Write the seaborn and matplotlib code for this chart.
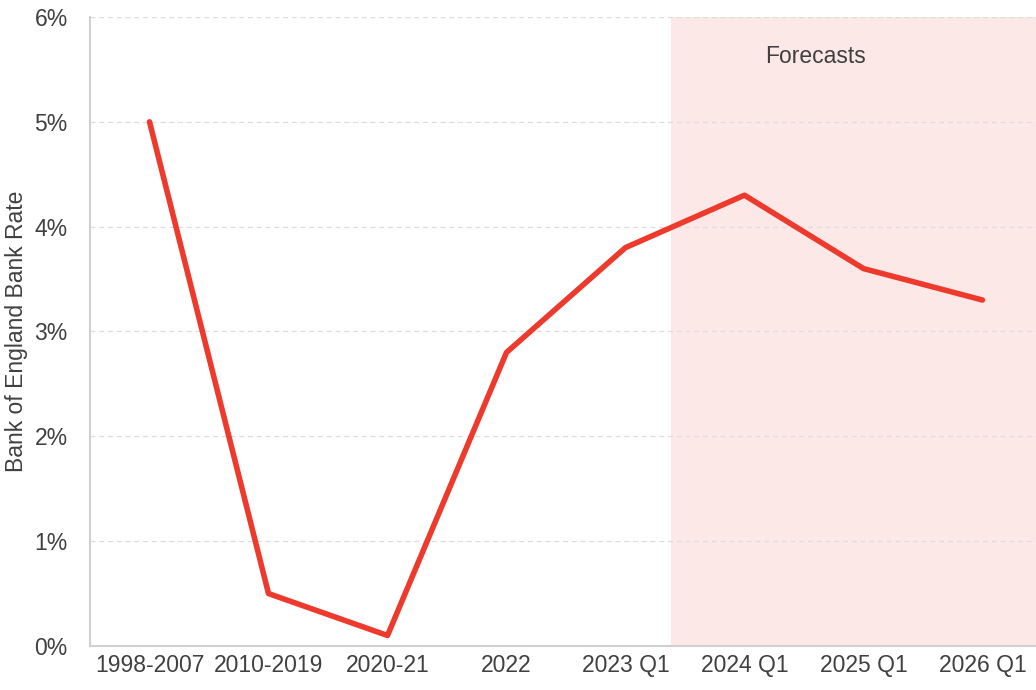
import matplotlib
matplotlib.use("Agg")
from matplotlib import pyplot as plt
from matplotlib.ticker import PercentFormatter
import seaborn as sns
import pandas as pd

sns.set_style("white")
plt.rcParams['font.family'] = ['Liberation Sans', 'DejaVu Sans']

periods = ["1998-2007", "2010-2019", "2020-21", "2022", "2023 Q1", "2024 Q1", "2025 Q1", "2026 Q1"]
bank_rate = [5.0, 0.5, 0.1, 2.8, 3.8, 4.3, 3.6, 3.3]
forecast_start = 4.38  # where the shaded forecast band begins

df = pd.DataFrame({"period": periods, "rate": bank_rate, "pos": range(len(periods))})

text_col = "#404040"
fig = plt.figure(figsize=(10.36, 6.9), dpi=100)
ax = fig.add_axes([0.0869, 0.0638, 0.9131, 0.9116])

ax.axvspan(forecast_start, 7.6, ymin=0, ymax=1, color="#fde8e8", lw=0, zorder=0)
sns.lineplot(data=df, x="pos", y="rate", color="#ee3a2d", lw=4, ax=ax, zorder=3)

ax.set_xlim(-0.5, 7.45)
ax.set_ylim(0, 6)
ax.set_xticks(df["pos"])
ax.set_xticklabels(periods)
ax.set_yticks(range(0, 7))
ax.yaxis.set_major_formatter(PercentFormatter(decimals=0))
ax.tick_params(axis="both", labelsize=16.5, colors=text_col, length=0)
ax.tick_params(axis="y", pad=16)
ax.tick_params(axis="x", pad=6)
ax.set_xlabel("")
ax.set_ylabel("Bank of England Bank Rate", fontsize=16.5, color=text_col)
ax.yaxis.set_label_coords(-0.066, 0.5)

for y in range(1, 7):
    ax.axhline(y, color="#dddddd", lw=0.9, ls=(0, (4, 3)), zorder=1)

for side in ["top", "right"]:
    ax.spines[side].set_visible(False)
ax.spines["left"].set_color("#d0d0d0")
ax.spines["bottom"].set_color("#d0d0d0")
ax.spines["left"].set_linewidth(1.5)
ax.spines["bottom"].set_linewidth(1.5)

ax.text(5.6, 5.62, "Forecasts", fontsize=16.5, color=text_col, ha="center", va="center")

fig.savefig("out.png", dpi=100)
